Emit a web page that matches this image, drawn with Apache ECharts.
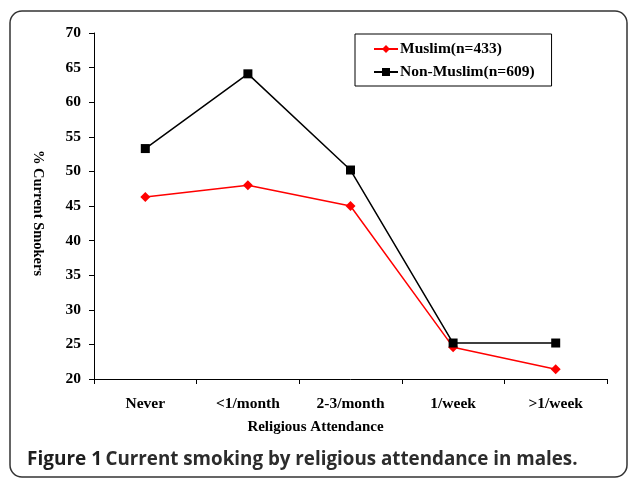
<!DOCTYPE html>
<html>
<head>
<meta charset="utf-8">
<script src="https://cdn.jsdelivr.net/npm/echarts@6/dist/echarts.min.js"></script>
<style>html,body{margin:0;padding:0;background:#fff}#c{width:629px;height:478px}</style>
</head>
<body>
<div id="c"></div>
<script>
var categories = ['Never', '<1/month', '2-3/month', '1/week', '>1/week'];
var muslim = [46.3, 48.0, 45.0, 24.6, 21.4];
var nonMuslim = [53.3, 64.1, 50.2, 25.2, 25.2];
var yTicks = {min: 20, max: 70, interval: 5};
var seriesNames = ['Muslim(n=433)', 'Non-Muslim(n=609)'];

var serif = 'Liberation Serif';
var chart = echarts.init(document.getElementById('c'));
chart.setOption({
  backgroundColor: '#fff',
  animation: false,
  grid: {left: 94, right: 22, top: 33, bottom: 99},
  legend: {
    orient: 'vertical', left: 355, top: 34, width: 196,
    padding: [7, 17, 6, 18], itemGap: 7, itemWidth: 24, itemHeight: 10,
    borderColor: '#000', borderWidth: 1,
    textStyle: {fontFamily: serif, fontWeight: 'bold', fontSize: 15.5, color: '#000', padding: [0, 0, 0, -3]},
    data: seriesNames
  },
  xAxis: {
    type: 'category', data: categories, boundaryGap: true,
    axisLine: {lineStyle: {color: '#000', width: 1}},
    axisTick: {show: true, inside: false, length: 5, alignWithLabel: false, lineStyle: {color: '#000'}},
    axisLabel: {fontFamily: serif, fontWeight: 'bold', fontSize: 15.5, color: '#000', margin: 17},
    name: 'Religious Attendance', nameLocation: 'middle', nameGap: 41,
    nameTextStyle: {fontFamily: serif, fontWeight: 'bold', fontSize: 15, color: '#000', padding: [0, 70, 0, 0]}
  },
  yAxis: {
    type: 'value', min: yTicks.min, max: yTicks.max, interval: yTicks.interval,
    axisLine: {show: true, lineStyle: {color: '#000', width: 1}},
    axisTick: {show: true, length: 5, lineStyle: {color: '#000'}},
    splitLine: {show: false},
    axisLabel: {fontFamily: serif, fontWeight: 'bold', fontSize: 15.5, color: '#000', margin: 13},
    name: '% Current Smokers', nameLocation: 'middle', nameRotate: -90, nameGap: 49,
    nameTextStyle: {fontFamily: serif, fontWeight: 'bold', fontSize: 14.5, color: '#000', padding: [0, 0, 0, 14]}
  },
  series: [
    {name: seriesNames[0], type: 'line', data: muslim, symbol: 'diamond', symbolSize: 10,
     itemStyle: {color: '#ff0000'}, lineStyle: {color: '#ff0000', width: 1.5}},
    {name: seriesNames[1], type: 'line', data: nonMuslim, symbol: 'rect', symbolSize: 9,
     itemStyle: {color: '#000'}, lineStyle: {color: '#000', width: 1.5}}
  ],
  graphic: [
    {type: 'rect', shape: {x: 10, y: 11, width: 617, height: 466, r: 12}, silent: true,
     style: {fill: 'none', stroke: '#333', lineWidth: 1.5}},
    {type: 'text', left: 27, top: 450, silent: true,
     style: {rich: {
       a: {fontFamily: 'Open Sans', fontWeight: 'bold', fontSize: 19, fill: '#1e1e1e'},
       b: {fontFamily: 'Open Sans', fontWeight: 'bold', fontSize: 18.8, fill: '#2c2c2c'}
     }, text: '{a|Figure 1} {b|Current smoking by religious attendance in males.}'}}
  ]
});
</script>
</body>
</html>
